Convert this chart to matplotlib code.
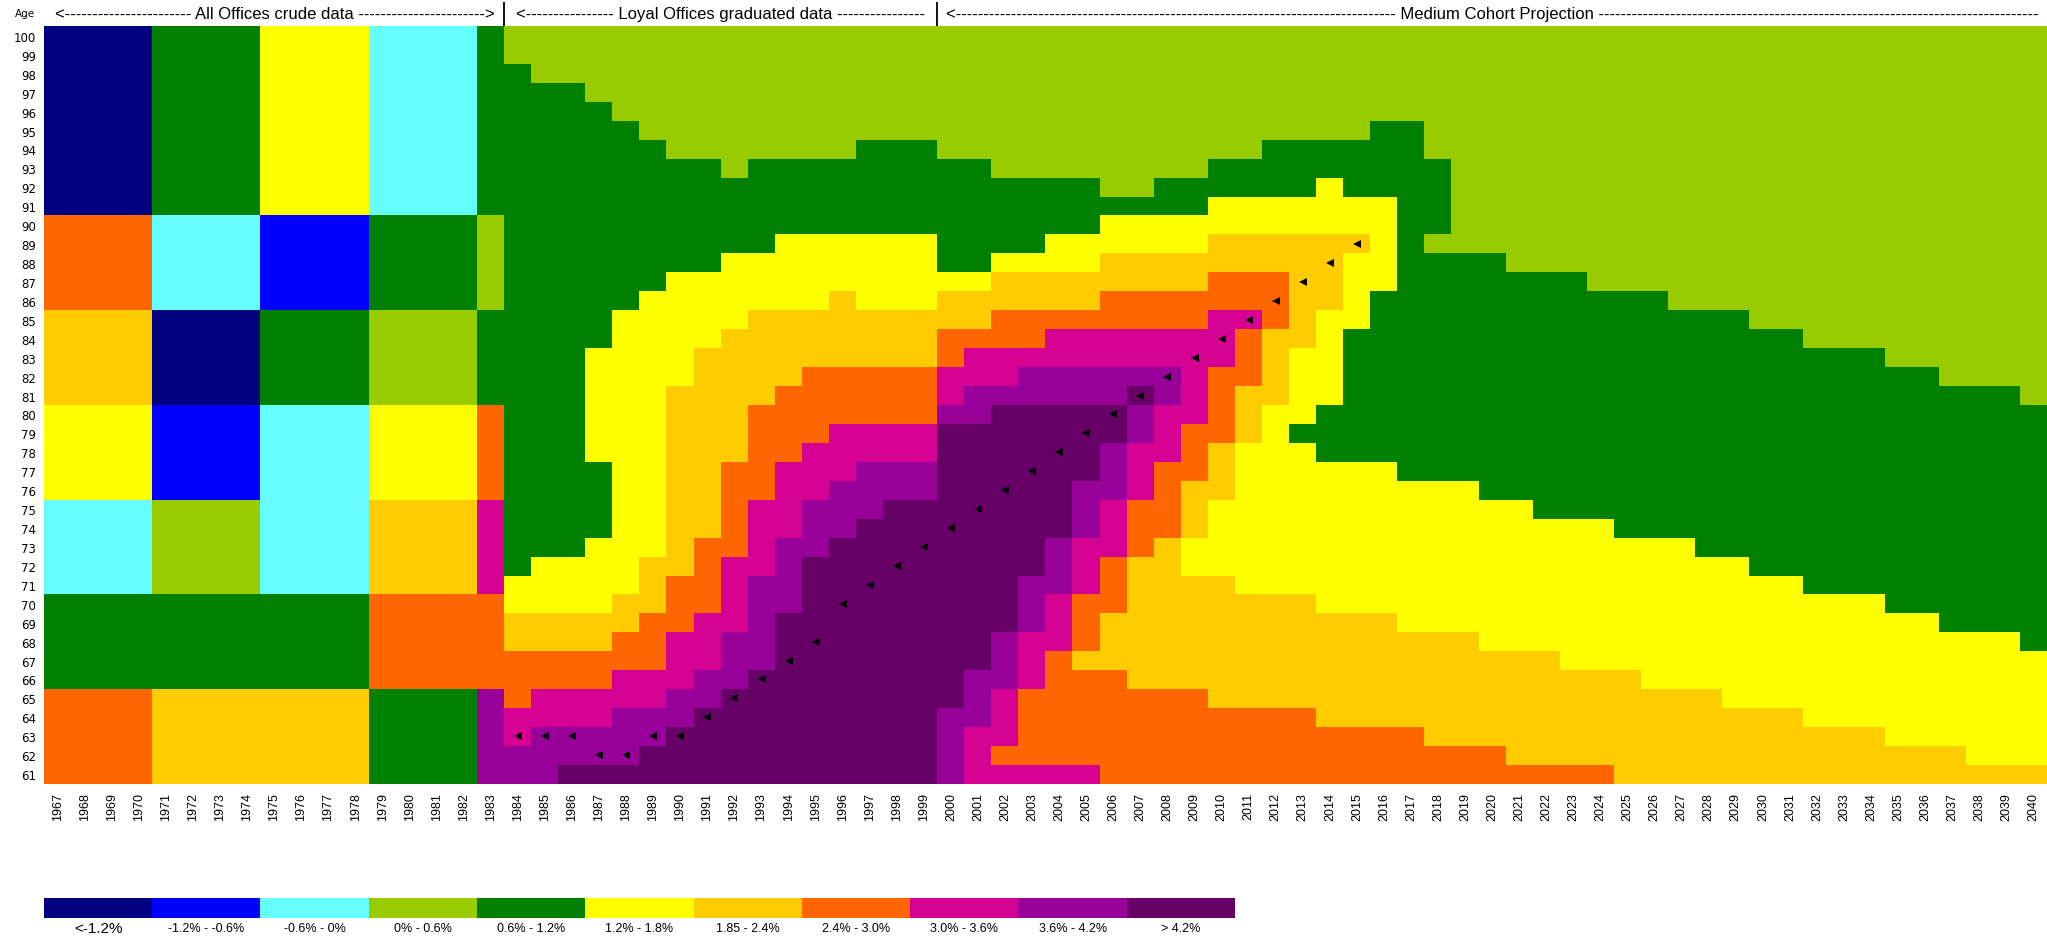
import numpy as np
import matplotlib
matplotlib.use("Agg")
import matplotlib.pyplot as plt
from matplotlib.colors import ListedColormap, BoundaryNorm
from matplotlib.transforms import blended_transform_factory


YEARS = list(range(1967, 2041))
AGES = list(range(100, 60, -1))

BAND_COLORS = ["#000080", "#0000ff", "#66ffff", "#99cc00", "#008000", "#ffff00",
               "#ffcc00", "#ff6600", "#d60093", "#990099", "#660066"]
BAND_LABELS = ["<-1.2%", "-1.2% - -0.6%", "-0.6% - 0%", "0% - 0.6%", "0.6% - 1.2%",
               "1.2% - 1.8%", "1.85 - 2.4%", "2.4% - 3.0%", "3.0% - 3.6%",
               "3.6% - 4.2%", "> 4.2%"]

# One string per calendar year, one character per age from 100 down to 61
# (grouped in tens for reading). Character = improvement band, hex ('A' = > 4.2%).
CRUDE = [
    "0000000000 7777766666 5555522222 4444477777",  # 1967
    "0000000000 7777766666 5555522222 4444477777",
    "0000000000 7777766666 5555522222 4444477777",
    "0000000000 7777766666 5555522222 4444477777",
    "4444444444 2222200000 1111133333 4444466666",  # 1971
    "4444444444 2222200000 1111133333 4444466666",
    "4444444444 2222200000 1111133333 4444466666",
    "4444444444 2222200000 1111133333 4444466666",
    "5555555555 1111144444 2222222222 4444466666",  # 1975
    "5555555555 1111144444 2222222222 4444466666",
    "5555555555 1111144444 2222222222 4444466666",
    "5555555555 1111144444 2222222222 4444466666",
    "2222222222 4444433333 5555566666 7777744444",  # 1979
    "2222222222 4444433333 5555566666 7777744444",
    "2222222222 4444433333 5555566666 7777744444",
    "2222222222 4444433333 5555566666 7777744444",
    "4444444444 3333344444 7777788888 7777799999",  # 1983
]

GRADUATED = [
    "3344444444 4444444444 4444444445 5667778899",  # 1984
    "3334444444 4444444444 4444444455 5667788999",
    "3334444444 4444444444 4444444455 566778899A",
    "3333444444 4444444555 5554444555 566778899A",
    "3333344444 4444455555 5555555555 667788999A",  # 1988
    "3333334444 4444555555 5555555566 67778899AA",
    "3333333444 4445555556 6666666667 7788899AAA",
    "3333333444 4445555666 6666666777 788899AAAA",
    "3333333344 4455556666 6667777788 88999AAAAA",  # 1992
    "3333333444 4455566666 7777788889 9999AAAAAA",
    "3333333444 4555566667 7778888999 9AAAAAAAAA",
    "3333333444 4555566677 77888999AA AAAAAAAAAA",
    "3333333444 4555666677 7888999AAA AAAAAAAAAA",  # 1996
    "3333334444 4555566677 788999AAAA AAAAAAAAAA",
    "3333334444 4555566677 78899AAAAA AAAAAAAAAA",
    "3333334444 4555566677 78899AAAAA AAAAAAAAAA",
]

PROJECTED = [
    "3333333444 4445667788 9AAAAAAAAA AAAAAA9999",  # 2000
    "3333333444 4445667889 9AAAAAAAAA AAAA999888",
    "3333333344 4456677889 AAAAAAAAAA AA99988878",
    "3333333344 4456677899 AAAAAAAAA9 9988877778",
    "3333333344 4556678899 AAAAAAA999 8887777778",  # 2004
    "3333333344 4556678899 AAAA999888 7776777778",
    "3333333334 5566778899 AA99988877 7666777777",
    "3333333334 556677889A 9988877766 6666677777",
    "3333333344 5566778899 8887777666 6666677777",  # 2008
    "3333333344 5566778888 8777666556 6666677777",
    "3333333445 5667788877 7766655556 6666667777",
    "3333333445 5667787776 6655555555 6666667777",
    "3333334445 5667776666 5555555555 6666667777",  # 2012
    "3333334445 5666666555 5455555555 6666667777",
    "3333334455 5666655555 4445555555 5666666777",
    "3333334445 5655554444 4445555555 5666666777",
    "3333344445 5555444444 4445555555 5666666777",  # 2016
    "3333344444 4444444444 4444555555 5566666777",
    "3333333444 4344444444 4444555555 5566666677",
    "3333333333 3344444444 4444555555 5566666677",
    "3333333333 3344444444 4444455555 5556666677",  # 2020
    "3333333333 3334444444 4444455555 5556666667",
    "3333333333 3334444444 4444445555 5556666667",
    "3333333333 3334444444 4444445555 5555666667",
    "3333333333 3333444444 4444445555 5555666667",  # 2024
    "3333333333 3333444444 4444444555 5555666666",
    "3333333333 3333444444 4444444555 5555566666",
    "3333333333 3333344444 4444444555 5555566666",
    "3333333333 3333344444 4444444455 5555566666",  # 2028
    "3333333333 3333344444 4444444455 5555556666",
    "3333333333 3333334444 4444444445 5555556666",
    "3333333333 3333334444 4444444445 5555556666",
    "3333333333 3333333444 4444444444 5555555666",  # 2032
    "3333333333 3333333444 4444444444 5555555666",
    "3333333333 3333333444 4444444444 5555555666",
    "3333333333 3333333344 4444444444 4555555566",
    "3333333333 3333333344 4444444444 4555555566",  # 2036
    "3333333333 3333333334 4444444444 4455555566",
    "3333333333 3333333334 4444444444 4455555556",
    "3333333333 3333333334 4444444444 4455555556",
    "3333333333 3333333333 4444444444 4445555556",  # 2040
]

# age at which the marked cohort sits in each year
COHORT_YEARS = list(range(1984, 2016))
COHORT_AGES = [63, 63, 63, 62, 62, 63, 63, 64, 65, 66, 67, 68,
               70, 71, 72, 73, 74, 75, 76, 77, 78, 79, 80, 81,
               82, 83, 84, 85, 86, 87, 88, 89]

SECTIONS = [
    ("All Offices crude data", 1966.5, 1983.5, True),
    ("Loyal Offices graduated data", 1983.5, 1999.5, False),
    ("Medium Cohort Projection", 1999.5, 2040.5, False),
]


def dashed_header(fig, ax, label, x0, x1, closed, y, size):
    """Write '<---- label ---->' stretched to fill the span x0..x1 (data units)."""
    trans = blended_transform_factory(ax.transData, ax.transAxes)
    renderer = fig.canvas.get_renderer()
    px0 = ax.transData.transform((x0, 0))[0]
    px1 = ax.transData.transform((x1, 0))[0]
    target = (px1 - px0) - 16
    txt = ax.text((x0 + x1) / 2, y, "", transform=trans, ha="center", va="center",
                  fontsize=size, family="Liberation Sans", clip_on=False)

    def build(n):
        return "<" + "-" * n + " " + label + " " + "-" * n + (">" if closed else "")

    n = 1
    txt.set_text(build(n + 1))
    while txt.get_window_extent(renderer).width <= target:
        n += 1
        txt.set_text(build(n + 1))
    txt.set_text(build(n))
    return txt


# =========================
# Heat map
# =========================

columns = [col.replace(" ", "") for col in CRUDE + GRADUATED + PROJECTED]
grid = np.array([[int(c, 16) for c in col] for col in columns]).T

cmap = ListedColormap(BAND_COLORS)
norm = BoundaryNorm(np.arange(-0.5, len(BAND_COLORS) + 0.5), cmap.N)

W, H = 2047, 937
fig = plt.figure(figsize=(W / 100, H / 100), dpi=100)
ax = fig.add_axes([44.4 / W, 1 - 784.6 / H, 2002.6 / W, 757.2 / H])

ax.imshow(grid, cmap=cmap, norm=norm, aspect="auto", interpolation="nearest",
          extent=(YEARS[0] - 0.5, YEARS[-1] + 0.5, AGES[-1] - 0.5, AGES[0] + 0.5),
          origin="upper")
ax.plot(COHORT_YEARS, COHORT_AGES, ls="none", marker="<", color="black",
        markersize=6, markeredgewidth=0)

ax.set_xlim(YEARS[0] - 0.5, YEARS[-1] + 0.5)
ax.set_ylim(AGES[-1] - 0.5, AGES[0] + 0.5)
ax.set_xticks(YEARS)
ax.set_xticklabels([str(y) for y in YEARS], rotation=90, fontsize=9,
                   family="Liberation Sans")
ax.set_yticks(AGES)
ax.set_yticklabels([str(a) for a in AGES], fontsize=8.5, family="DejaVu Sans")
ax.tick_params(axis="x", length=0, pad=6)
ax.tick_params(axis="y", length=0, pad=6)
for spine in ax.spines.values():
    spine.set_visible(False)

ax.text(-0.0047, 1.0177, "Age", transform=ax.transAxes, ha="right", va="center",
        fontsize=7.5, family="DejaVu Sans")

# section headers and dividers
for label, x0, x1, closed in SECTIONS:
    dashed_header(fig, ax, label, x0, x1, closed, 1.0165, 12)
trans = blended_transform_factory(ax.transData, ax.transAxes)
for x in (SECTIONS[1][1], SECTIONS[2][1]):
    ax.plot([x, x], [1.0, 1.032], transform=trans, color="black", lw=1.3,
            clip_on=False, solid_capstyle="butt")

# =========================
# Legend strip
# =========================

lax = fig.add_axes([44 / W, 1 - 919 / H, 1191 / W, 20 / H])
lax.imshow(np.arange(len(BAND_COLORS))[None, :], cmap=cmap, norm=norm,
           aspect="auto", extent=(0, len(BAND_COLORS), 0, 1))
lax.set_xlim(0, len(BAND_COLORS))
lax.set_ylim(0, 1)
lax.axis("off")
for i, lab in enumerate(BAND_LABELS):
    lax.text(i + 0.5, -0.5, lab, ha="center", va="center",
             fontsize=11 if i == 0 else 9, family="Liberation Sans", clip_on=False)

fig.savefig("out.png", dpi=100)
